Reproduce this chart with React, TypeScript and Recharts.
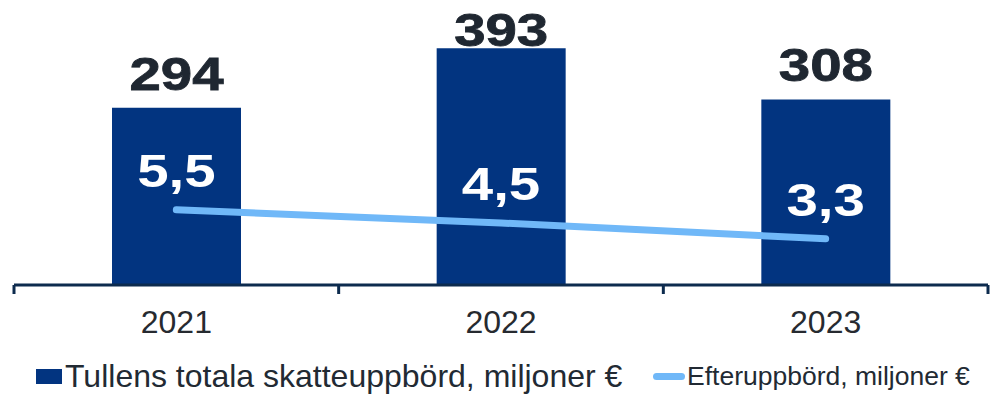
import { ComposedChart, Bar, Line, XAxis, YAxis, LabelList } from "recharts";

const years = ["2021", "2022", "2023"];
const totalRevenue = [294, 393, 308];
const backTaxes = [5.5, 4.5, 3.3];

const data = years.map((year, i) => ({
  year,
  total: totalRevenue[i],
  back: backTaxes[i],
}));

const FONT = "'Liberation Sans', Arial, sans-serif";
const BAR_COLOR = "#023480";
const LINE_COLOR = "#70b8f8";
const TEXT_DARK = "#1f2731";
const AXIS_COLOR = "#0d2b4e";

const W = 1001;
const H = 416;
const M = { top: 0, right: 13, left: 14, bottom: 0 };
const BAND = (W - M.left - M.right) / years.length;

const fmt = (v: number) => v.toFixed(1).replace(".", ",");

// value labels sit above the bar, but never leave the top of the picture
const BarValue = (props: any) => {
  const { x, y, width, value } = props;
  const cx = x + width / 2;
  const base = Math.max(y - 18, 46);
  return (
    <text
      transform={`translate(${cx},${base}) scale(1.2,1)`}
      textAnchor="middle"
      fontFamily={FONT}
      fontWeight="bold"
      fontSize={47}
      fill={TEXT_DARK}
      stroke={TEXT_DARK}
      strokeWidth={0.8}
    >
      {value}
    </text>
  );
};

const LineValue = (props: any) => {
  const { x, y, value } = props;
  return (
    <text
      transform={`translate(${x},${y - 23}) scale(1.2,1)`}
      textAnchor="middle"
      fontFamily={FONT}
      fontWeight="bold"
      fontSize={47}
      fill="#ffffff"
    >
      {fmt(value)}
    </text>
  );
};

const YearTick = (props: any) => {
  const { x, y, payload, index } = props;
  const half = payload?.offset || BAND / 2;
  const last = index === years.length - 1;
  return (
    <g>
      <line x1={x - half} y1={y} x2={x - half} y2={y + 9} stroke={AXIS_COLOR} strokeWidth={3} />
      {last && <line x1={x + half} y1={y} x2={x + half} y2={y + 9} stroke={AXIS_COLOR} strokeWidth={3} />}
      <text x={x} y={y + 48} textAnchor="middle" fontFamily={FONT} fontSize={32} fill="#262a30">
        {payload.value}
      </text>
    </g>
  );
};

export default function App() {
  return (
    <div style={{ position: "absolute", left: 0, top: 0, width: W, height: H, background: "#fff" }}>
      <ComposedChart width={W} height={H} data={data} margin={M}>
        <XAxis
          dataKey="year"
          height={131}
          tickSize={0}
          tickMargin={0}
          tickLine={false}
          axisLine={{ stroke: AXIS_COLOR, strokeWidth: 3 }}
          tick={<YearTick />}
          interval={0}
        />
        <YAxis yAxisId="left" hide domain={[0, 473]} />
        <YAxis yAxisId="right" orientation="right" hide domain={[-0.2, 21.4]} />
        <Bar yAxisId="left" dataKey="total" fill={BAR_COLOR} barSize={129} isAnimationActive={false}>
          <LabelList dataKey="total" content={<BarValue />} />
        </Bar>
        <Line
          yAxisId="right"
          dataKey="back"
          type="linear"
          stroke={LINE_COLOR}
          strokeWidth={7}
          strokeLinecap="round"
          dot={false}
          activeDot={false}
          isAnimationActive={false}
        >
          <LabelList dataKey="back" content={<LineValue />} />
        </Line>
      </ComposedChart>
      <div
        style={{
          position: "absolute",
          left: 36,
          top: 358,
          display: "flex",
          alignItems: "center",
          fontFamily: FONT,
          color: "#222a33",
          whiteSpace: "pre",
        }}
      >
        <span style={{ width: 26, height: 15, background: BAR_COLOR, display: "inline-block", marginRight: 3 }} />
        <span style={{ fontSize: 32 }}>Tullens totala skatteuppbörd, miljoner €</span>
      </div>
      <div
        style={{
          position: "absolute",
          left: 653,
          top: 358,
          display: "flex",
          alignItems: "center",
          fontFamily: FONT,
          color: "#222a33",
          whiteSpace: "pre",
          height: 36,
        }}
      >
        <span style={{ width: 32, height: 7, borderRadius: 4, background: LINE_COLOR, display: "inline-block", marginRight: 2 }} />
        <span style={{ fontSize: 26.5 }}>Efteruppbörd, miljoner €</span>
      </div>
    </div>
  );
}
